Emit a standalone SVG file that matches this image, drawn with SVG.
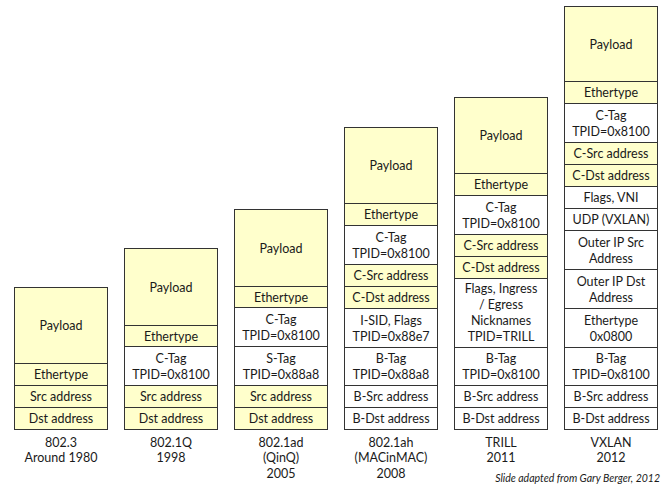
<svg xmlns="http://www.w3.org/2000/svg" width="665" height="487" viewBox="0 0 665 487">
<style>
.y{fill:#FFFFCC;stroke:#333;stroke-width:1}
.w{fill:#FFFFFF;stroke:#333;stroke-width:1}
text{font-family:Lato,"Liberation Sans",sans-serif;font-size:12.5px;fill:#1a1a1a;text-anchor:middle}
.cap{font-size:12.5px}
.credit{font-size:10.5px;font-style:italic;text-anchor:end}
</style>
<rect width="665" height="487" fill="#fff"/>

<g id="col-8023">
<rect class="y" x="14.5" y="287.5" width="93" height="76"/><text x="61" y="330">Payload</text>
<rect class="y" x="14.5" y="363.5" width="93" height="22"/><text x="61" y="379">Ethertype</text>
<rect class="y" x="14.5" y="385.5" width="93" height="22"/><text x="61" y="401">Src address</text>
<rect class="y" x="14.5" y="407.5" width="93" height="22"/><text x="61" y="423">Dst address</text>
<text class="cap" x="61" y="446.5">802.3</text><text class="cap" x="61" y="462">Around 1980</text>
</g>

<g id="col-8021q">
<rect class="y" x="124.5" y="248.5" width="93" height="77"/><text x="171" y="291.5">Payload</text>
<rect class="y" x="124.5" y="325.5" width="93" height="21"/><text x="171" y="340.5">Ethertype</text>
<rect class="w" x="124.5" y="346.5" width="93" height="39"/><text x="171" y="362.5">C-Tag</text><text x="171" y="378.5">TPID=0x8100</text>
<rect class="y" x="124.5" y="385.5" width="93" height="22"/><text x="171" y="401">Src address</text>
<rect class="y" x="124.5" y="407.5" width="93" height="22"/><text x="171" y="423">Dst address</text>
<text class="cap" x="171" y="446.5">802.1Q</text><text class="cap" x="171" y="462">1998</text>
</g>

<g id="col-8021ad">
<rect class="y" x="234.5" y="209.5" width="93" height="77"/><text x="281" y="252.5">Payload</text>
<rect class="y" x="234.5" y="286.5" width="93" height="21"/><text x="281" y="301.5">Ethertype</text>
<rect class="w" x="234.5" y="307.5" width="93" height="39"/><text x="281" y="323.5">C-Tag</text><text x="281" y="339.5">TPID=0x8100</text>
<rect class="w" x="234.5" y="346.5" width="93" height="39"/><text x="281" y="362.5">S-Tag</text><text x="281" y="378.5">TPID=0x88a8</text>
<rect class="y" x="234.5" y="385.5" width="93" height="22"/><text x="281" y="401">Src address</text>
<rect class="y" x="234.5" y="407.5" width="93" height="22"/><text x="281" y="423">Dst address</text>
<text class="cap" x="281" y="446.5">802.1ad</text><text class="cap" x="281" y="462">(QinQ)</text><text class="cap" x="281" y="477.5">2005</text>
</g>

<g id="col-8021ah">
<rect class="y" x="344.5" y="127.5" width="93" height="76"/><text x="391" y="170">Payload</text>
<rect class="y" x="344.5" y="203.5" width="93" height="22"/><text x="391" y="219">Ethertype</text>
<rect class="w" x="344.5" y="225.5" width="93" height="39"/><text x="391" y="241.5">C-Tag</text><text x="391" y="257.5">TPID=0x8100</text>
<rect class="y" x="344.5" y="264.5" width="93" height="22"/><text x="391" y="280">C-Src address</text>
<rect class="y" x="344.5" y="286.5" width="93" height="22"/><text x="391" y="302">C-Dst address</text>
<rect class="w" x="344.5" y="308.5" width="93" height="39"/><text x="391" y="324.5">I-SID, Flags</text><text x="391" y="340.5">TPID=0x88e7</text>
<rect class="w" x="344.5" y="347.5" width="93" height="38"/><text x="391" y="363">B-Tag</text><text x="391" y="379">TPID=0x88a8</text>
<rect class="w" x="344.5" y="385.5" width="93" height="22"/><text x="391" y="401">B-Src address</text>
<rect class="w" x="344.5" y="407.5" width="93" height="22"/><text x="391" y="423">B-Dst address</text>
<text class="cap" x="391" y="446.5">802.1ah</text><text class="cap" x="391" y="462">(MACinMAC)</text><text class="cap" x="391" y="477.5">2008</text>
</g>

<g id="col-trill">
<rect class="y" x="454.5" y="97.5" width="93" height="76"/><text x="501" y="140">Payload</text>
<rect class="y" x="454.5" y="173.5" width="93" height="22"/><text x="501" y="189">Ethertype</text>
<rect class="w" x="454.5" y="195.5" width="93" height="39"/><text x="501" y="211.5">C-Tag</text><text x="501" y="227.5">TPID=0x8100</text>
<rect class="y" x="454.5" y="234.5" width="93" height="22"/><text x="501" y="250">C-Src address</text>
<rect class="y" x="454.5" y="256.5" width="93" height="22"/><text x="501" y="272">C-Dst address</text>
<rect class="w" x="454.5" y="278.5" width="93" height="69"/><text x="501" y="293">Flags, Ingress</text><text x="501" y="309">/ Egress</text><text x="501" y="325">Nicknames</text><text x="501" y="341">TPID=TRILL</text>
<rect class="w" x="454.5" y="347.5" width="93" height="38"/><text x="501" y="363">B-Tag</text><text x="501" y="379">TPID=0x8100</text>
<rect class="w" x="454.5" y="385.5" width="93" height="22"/><text x="501" y="401">B-Src address</text>
<rect class="w" x="454.5" y="407.5" width="93" height="22"/><text x="501" y="423">B-Dst address</text>
<text class="cap" x="501" y="446.5">TRILL</text><text class="cap" x="501" y="462">2011</text>
</g>

<g id="col-vxlan">
<rect class="y" x="564.5" y="6.5" width="93" height="75"/><text x="611" y="48.5">Payload</text>
<rect class="y" x="564.5" y="81.5" width="93" height="22"/><text x="611" y="97">Ethertype</text>
<rect class="w" x="564.5" y="103.5" width="93" height="39"/><text x="611" y="119.5">C-Tag</text><text x="611" y="135.5">TPID=0x8100</text>
<rect class="y" x="564.5" y="142.5" width="93" height="22"/><text x="611" y="158">C-Src address</text>
<rect class="y" x="564.5" y="164.5" width="93" height="22"/><text x="611" y="180">C-Dst address</text>
<rect class="w" x="564.5" y="186.5" width="93" height="22"/><text x="611" y="202">Flags, VNI</text>
<rect class="w" x="564.5" y="208.5" width="93" height="22"/><text x="611" y="224">UDP (VXLAN)</text>
<rect class="w" x="564.5" y="230.5" width="93" height="39"/><text x="611" y="246.5">Outer IP Src</text><text x="611" y="262.5">Address</text>
<rect class="w" x="564.5" y="269.5" width="93" height="39"/><text x="611" y="285.5">Outer IP Dst</text><text x="611" y="301.5">Address</text>
<rect class="w" x="564.5" y="308.5" width="93" height="39"/><text x="611" y="324.5">Ethertype</text><text x="611" y="340.5">0x0800</text>
<rect class="w" x="564.5" y="347.5" width="93" height="38"/><text x="611" y="363">B-Tag</text><text x="611" y="379">TPID=0x8100</text>
<rect class="w" x="564.5" y="385.5" width="93" height="22"/><text x="611" y="401">B-Src address</text>
<rect class="w" x="564.5" y="407.5" width="93" height="22"/><text x="611" y="423">B-Dst address</text>
<text class="cap" x="611" y="446.5">VXLAN</text><text class="cap" x="611" y="462">2012</text>
</g>

<text class="credit" x="660" y="482">Slide adapted from Gary Berger, 2012</text>
</svg>
